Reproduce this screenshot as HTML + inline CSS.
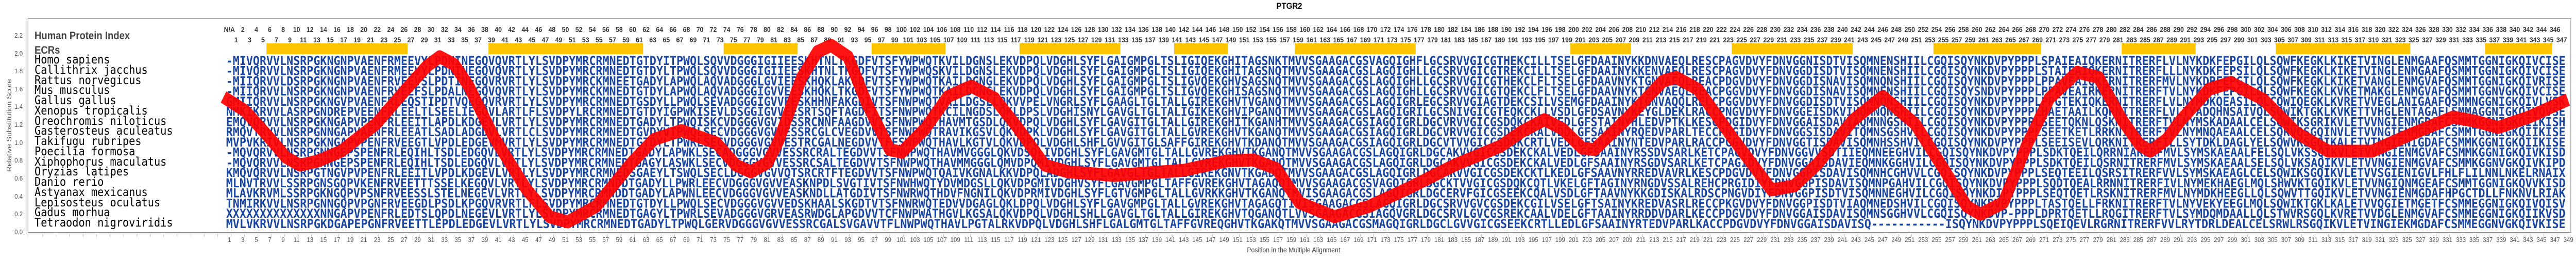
<!DOCTYPE html>
<html><head><meta charset="utf-8"><style>
html,body{margin:0;padding:0;overflow:hidden;height:500px;background:#fff}
#wrap{display:block;width:100vw;height:500px}
.pg{width:5671px;height:500px;position:relative;background:#fff;font-family:"Liberation Sans",sans-serif;overflow:hidden}
.ab{position:absolute}
.row{position:absolute;white-space:nowrap;font-size:0;overflow:hidden;height:16px}
.row i{display:inline-block;font-style:normal;text-align:center;width:29.6px}
.top i{font-size:14px;font-weight:bold;color:#333;line-height:16px}
.bot i{font-size:13px;color:#555;line-height:16px}
.sp{position:absolute;left:76px;top:107px;font-family:"DejaVu Sans Mono",monospace;font-size:23px;line-height:19.75px;color:#000;white-space:pre}
.yl{position:absolute;left:20px;width:30px;text-align:right;font-size:13px;color:#555;line-height:14px}
</style></head><body>
<svg id="wrap" viewBox="0 0 5671 500" preserveAspectRatio="none" xmlns="http://www.w3.org/2000/svg">
<foreignObject x="0" y="0" width="5671" height="500">
<div xmlns="http://www.w3.org/1999/xhtml" class="pg">
<div class="ab" style="left:61px;top:35px;width:5597px;height:414px;border:1px solid #888"></div>
<div class="ab" style="left:57px;top:35px;width:1px;height:418px;background:#999"></div>
<div class="ab" style="left:61px;top:453px;width:5598px;height:1px;background:#aaa"></div>
<div class="ab" style="left:61px;top:454px;width:5598px;height:5px;background:repeating-linear-gradient(90deg,transparent 0,transparent 28.6px,#bbb 28.6px,#bbb 29.6px);background-position:4px 0"></div>

<div class="ab" style="left:2810px;top:2px;font-weight:bold;font-size:17px">PTGR2</div>
<div class="ab" style="left:2745px;top:476px;font-size:14px;color:#444;white-space:nowrap">Position in the Multiple Alignment</div>
<div class="ab" style="left:12px;top:338px;width:190px;text-align:center;transform-origin:0 0;transform:rotate(-90deg);font-size:15px;color:#555;white-space:nowrap;line-height:17px">Relative Substitution Score</div>

<div class="yl" style="top:443px">0.0</div><div class="yl" style="top:408px">0.2</div><div class="yl" style="top:374px">0.4</div><div class="yl" style="top:339px">0.6</div><div class="yl" style="top:304px">0.8</div><div class="yl" style="top:270px">1.0</div><div class="yl" style="top:235px">1.2</div><div class="yl" style="top:200px">1.4</div><div class="yl" style="top:166px">1.6</div><div class="yl" style="top:131px">1.8</div><div class="yl" style="top:97px">2.0</div><div class="yl" style="top:62px">2.2</div>

<div class="ab" style="left:76px;top:58px;font-weight:bold;font-size:21px;color:#444;white-space:nowrap">Human Protein Index</div>
<div class="ab" style="left:76px;top:86px;font-weight:bold;font-size:21px;color:#444">ECRs</div>

<div class="row top" style="left:490.2px;top:49px;width:5160px"><i>N/A</i><i>2</i><i>4</i><i>6</i><i>8</i><i>10</i><i>12</i><i>14</i><i>16</i><i>18</i><i>20</i><i>22</i><i>24</i><i>26</i><i>28</i><i>30</i><i>32</i><i>34</i><i>36</i><i>38</i><i>40</i><i>42</i><i>44</i><i>46</i><i>48</i><i>50</i><i>52</i><i>54</i><i>56</i><i>58</i><i>60</i><i>62</i><i>64</i><i>66</i><i>68</i><i>70</i><i>72</i><i>74</i><i>76</i><i>78</i><i>80</i><i>82</i><i>84</i><i>86</i><i>88</i><i>90</i><i>92</i><i>94</i><i>96</i><i>98</i><i>100</i><i>102</i><i>104</i><i>106</i><i>108</i><i>110</i><i>112</i><i>114</i><i>116</i><i>118</i><i>120</i><i>122</i><i>124</i><i>126</i><i>128</i><i>130</i><i>132</i><i>134</i><i>136</i><i>138</i><i>140</i><i>142</i><i>144</i><i>146</i><i>148</i><i>150</i><i>152</i><i>154</i><i>156</i><i>158</i><i>160</i><i>162</i><i>164</i><i>166</i><i>168</i><i>170</i><i>172</i><i>174</i><i>176</i><i>178</i><i>180</i><i>182</i><i>184</i><i>186</i><i>188</i><i>190</i><i>192</i><i>194</i><i>196</i><i>198</i><i>200</i><i>202</i><i>204</i><i>206</i><i>208</i><i>210</i><i>212</i><i>214</i><i>216</i><i>218</i><i>220</i><i>222</i><i>224</i><i>226</i><i>228</i><i>230</i><i>232</i><i>234</i><i>236</i><i>238</i><i>240</i><i>242</i><i>244</i><i>246</i><i>248</i><i>250</i><i>252</i><i>254</i><i>256</i><i>258</i><i>260</i><i>262</i><i>264</i><i>266</i><i>268</i><i>270</i><i>272</i><i>274</i><i>276</i><i>278</i><i>280</i><i>282</i><i>284</i><i>286</i><i>288</i><i>290</i><i>292</i><i>294</i><i>296</i><i>298</i><i>300</i><i>302</i><i>304</i><i>306</i><i>308</i><i>310</i><i>312</i><i>314</i><i>316</i><i>318</i><i>320</i><i>322</i><i>324</i><i>326</i><i>328</i><i>330</i><i>332</i><i>334</i><i>336</i><i>338</i><i>340</i><i>342</i><i>344</i><i>346</i></div>
<div class="row top" style="left:505px;top:69px;width:5160px"><i>1</i><i>3</i><i>5</i><i>7</i><i>9</i><i>11</i><i>13</i><i>15</i><i>17</i><i>19</i><i>21</i><i>23</i><i>25</i><i>27</i><i>29</i><i>31</i><i>33</i><i>35</i><i>37</i><i>39</i><i>41</i><i>43</i><i>45</i><i>47</i><i>49</i><i>51</i><i>53</i><i>55</i><i>57</i><i>59</i><i>61</i><i>63</i><i>65</i><i>67</i><i>69</i><i>71</i><i>73</i><i>75</i><i>77</i><i>79</i><i>81</i><i>83</i><i>85</i><i>87</i><i>89</i><i>91</i><i>93</i><i>95</i><i>97</i><i>99</i><i>101</i><i>103</i><i>105</i><i>107</i><i>109</i><i>111</i><i>113</i><i>115</i><i>117</i><i>119</i><i>121</i><i>123</i><i>125</i><i>127</i><i>129</i><i>131</i><i>133</i><i>135</i><i>137</i><i>139</i><i>141</i><i>143</i><i>145</i><i>147</i><i>149</i><i>151</i><i>153</i><i>155</i><i>157</i><i>159</i><i>161</i><i>163</i><i>165</i><i>167</i><i>169</i><i>171</i><i>173</i><i>175</i><i>177</i><i>179</i><i>181</i><i>183</i><i>185</i><i>187</i><i>189</i><i>191</i><i>193</i><i>195</i><i>197</i><i>199</i><i>201</i><i>203</i><i>205</i><i>207</i><i>209</i><i>211</i><i>213</i><i>215</i><i>217</i><i>219</i><i>221</i><i>223</i><i>225</i><i>227</i><i>229</i><i>231</i><i>233</i><i>235</i><i>237</i><i>239</i><i>241</i><i>243</i><i>245</i><i>247</i><i>249</i><i>251</i><i>253</i><i>255</i><i>257</i><i>259</i><i>261</i><i>263</i><i>265</i><i>267</i><i>269</i><i>271</i><i>273</i><i>275</i><i>277</i><i>279</i><i>281</i><i>283</i><i>285</i><i>287</i><i>289</i><i>291</i><i>293</i><i>295</i><i>297</i><i>299</i><i>301</i><i>303</i><i>305</i><i>307</i><i>309</i><i>311</i><i>313</i><i>315</i><i>317</i><i>319</i><i>321</i><i>323</i><i>325</i><i>327</i><i>329</i><i>331</i><i>333</i><i>335</i><i>337</i><i>339</i><i>341</i><i>343</i><i>345</i><i>347</i></div>
<div class="row bot" style="left:490.2px;top:457px;width:5180px"><i>1</i><i>3</i><i>5</i><i>7</i><i>9</i><i>11</i><i>13</i><i>15</i><i>17</i><i>19</i><i>21</i><i>23</i><i>25</i><i>27</i><i>29</i><i>31</i><i>33</i><i>35</i><i>37</i><i>39</i><i>41</i><i>43</i><i>45</i><i>47</i><i>49</i><i>51</i><i>53</i><i>55</i><i>57</i><i>59</i><i>61</i><i>63</i><i>65</i><i>67</i><i>69</i><i>71</i><i>73</i><i>75</i><i>77</i><i>79</i><i>81</i><i>83</i><i>85</i><i>87</i><i>89</i><i>91</i><i>93</i><i>95</i><i>97</i><i>99</i><i>101</i><i>103</i><i>105</i><i>107</i><i>109</i><i>111</i><i>113</i><i>115</i><i>117</i><i>119</i><i>121</i><i>123</i><i>125</i><i>127</i><i>129</i><i>131</i><i>133</i><i>135</i><i>137</i><i>139</i><i>141</i><i>143</i><i>145</i><i>147</i><i>149</i><i>151</i><i>153</i><i>155</i><i>157</i><i>159</i><i>161</i><i>163</i><i>165</i><i>167</i><i>169</i><i>171</i><i>173</i><i>175</i><i>177</i><i>179</i><i>181</i><i>183</i><i>185</i><i>187</i><i>189</i><i>191</i><i>193</i><i>195</i><i>197</i><i>199</i><i>201</i><i>203</i><i>205</i><i>207</i><i>209</i><i>211</i><i>213</i><i>215</i><i>217</i><i>219</i><i>221</i><i>223</i><i>225</i><i>227</i><i>229</i><i>231</i><i>233</i><i>235</i><i>237</i><i>239</i><i>241</i><i>243</i><i>245</i><i>247</i><i>249</i><i>251</i><i>253</i><i>255</i><i>257</i><i>259</i><i>261</i><i>263</i><i>265</i><i>267</i><i>269</i><i>271</i><i>273</i><i>275</i><i>277</i><i>279</i><i>281</i><i>283</i><i>285</i><i>287</i><i>289</i><i>291</i><i>293</i><i>295</i><i>297</i><i>299</i><i>301</i><i>303</i><i>305</i><i>307</i><i>309</i><i>311</i><i>313</i><i>315</i><i>317</i><i>319</i><i>321</i><i>323</i><i>325</i><i>327</i><i>329</i><i>331</i><i>333</i><i>335</i><i>337</i><i>339</i><i>341</i><i>343</i><i>345</i><i>347</i><i>349</i></div>

<div class="sp">Homo sapiens
Callithrix jacchus
Rattus norvegicus
Mus musculus
Gallus gallus
Xenopus tropicalis
Oreochromis niloticus
Gasterosteus aculeatus
Takifugu rubripes
Poecilia formosa
Xiphophorus maculatus
Oryzias latipes
Danio rerio
Astyanax mexicanus
Lepisosteus oculatus
Gadus morhua
Tetraodon nigroviridis</div>
</div>
</foreignObject>
<g fill="#ffc600">
<rect x="586.6" y="84" width="310.8" height="21"/>
<rect x="1075.4" y="84" width="340.4" height="21"/>
<rect x="1593.2" y="84" width="162.8" height="21"/>
<rect x="1918.8" y="84" width="162.8" height="21"/>
<rect x="2244.4" y="84" width="222" height="21"/>
<rect x="2584.8" y="84" width="118.4" height="21"/>
<rect x="2850.2" y="84" width="266.4" height="21"/>
<rect x="3457.2" y="84" width="133.2" height="21"/>
<rect x="3812.4" y="84" width="266.4" height="21"/>
<rect x="4256.4" y="84" width="236.8" height="21"/>
<rect x="4670.8" y="84" width="162.8" height="21"/>
<rect x="5010.2" y="84" width="296" height="21"/>
<rect x="5470.8" y="84" width="148" height="21"/>
</g>
<g font-family="DejaVu Sans Mono, Liberation Mono, monospace" font-weight="bold" font-size="24" fill="#1a46a0">
<text x="497.6" y="126" textLength="5150.4" lengthAdjust="spacingAndGlyphs">-MIVQRVVLNSRPGKNGNPVAENFRMEEVYLPDNINEGQVQVRTLYLSVDPYMRCRMNEDTGTDYITPWQLSQVVDGGGIGIIEESKHTNLTKGDFVTSFYWPWQTKVILDGNSLEKVDPQLVDGHLSYFLGAIGMPGLTSLIGIQEKGHITAGSNKTMVVSGAAGACGSVAGQIGHFLGCSRVVGICGTHEKCILLTSELGFDAAINYKKDNVAEQLRESCPAGVDVYFDNVGGNISDTVISQMNENSHIILCGQISQYNKDVPYPPPLSPAIEAIQKERNITRERFLVLNYKDKFEPGILQLSQWFKEGKLKIKETVINGLENMGAAFQSMMTGGNIGKQIVCISE</text>
<text x="497.6" y="145.75" textLength="5150.4" lengthAdjust="spacingAndGlyphs">-MIVQRVVLNSRPGKNGNPVAENFRMEEVYLPDNINEGQVQVRTLYLSVDPYMRCRMNEDTGTDYLTPWQLSQVVDGGGIGIIEESKHTNLTKGDFVTSFYWPWQSKVILDGNSLEKVDPQLVDGHLSYFLGAIGMPGLTSLIGIQEKGHITAGSNQTMVVSGAAGACGSLAGQIGHLLGCSRVVGICGTREKCILLTSELGFDAAINYKKENVAEQLRESCPAGVDVYFDNVGGDISDTVISQMNENSHIILCGQISQYNKDVPYPPPLSTAIEAIQKERNITRERFLLLNYKDKFEPSILQLSQWFKEGKLKIKETVINGLENMGAAFQSMMTGGNIGKQIVCISE</text>
<text x="497.6" y="165.5" textLength="5150.4" lengthAdjust="spacingAndGlyphs">-MIIQRVVLDSRPGKNGNPVAENFRVEEVSLPDTINEGQVRVRTLYLSVDPYMRCKMNEETGADYLAPWQLAQVADGGGLGVIEESKHQKLAKGDFVTSFYWPWQTKAILDGNGLEKVDPQLVDGHLSYFLGAIGMPGLTSLIGVQEKGHVSAGSNQTMVVSGAAGACGSLAGQIGHLLGCSRVVGICGTHEKCLFLTSELGFDAAVNYKTGNVAEQLREACPDGVDVYFDNVGGDISNAVISQMNQNSHIILCGQISQYNKDVPYPPPLPPAVEAIQKERNITRERFMVLNYKDRFEPGILQLSQWFKEGKLKIKETVANGLENMGVAFQSMMTGGNIGKQIVRISE</text>
<text x="497.6" y="185.25" textLength="5150.4" lengthAdjust="spacingAndGlyphs">-MIIQRVVLNSRPGKNGNPVAENFRVEEFSLPDALNEGQVQVRTLYLSVDPYMRCKMNEDTGTDYLAPWQLAQVADGGGIGVVEESKHQKLTKGDFVTSFYWPWQTKAILDGNGLEKVDPQLVDGHLSYFLGAIGMPGLTSLIGVQEKGHISAGSNQTMVVSGAAGACGSLAGQIGHLLGCSRVVGICGTQEKCLFLTSELGFDAAVNYKTGNVAEQLREACPGGVDVYFDNVGGDISNAVISQMNENSHIILCGQISQYSNDVPYPPPLPPAVEAIRKERNITRERFTVLNYKDKFEPGILQLSQWFKEGKLKVKETMAKGLENMGVAFQSMMTGGNVGKQIVCISE</text>
<text x="497.6" y="205" textLength="5150.4" lengthAdjust="spacingAndGlyphs">GMIIQRVVLNSRPGKNGVPVAENFRLEQSTIPDTVQEGQVRVRTLYLSVDPYMRCRMNEDTGSDYLLPWQLSEVADGGGIGVVEESKHHNFAKGDIVTSFNWPWQTVAILDGSLLQKVVPELVNGRLSYFLGAAGLTGLTALLGIREKGHVTVGANQTMVVSGAAGACGSLAGQIGRLEGCSRVVGIAGTDEKCSILVSEMGFDAAINYKTGNVAQQLRELCPGGVDVYFDNVGGDISDTVISQMNQNSHIILCGQISQYNKDVPYPPPLPPGTEKIQKERNITRERFLVLNYMDKQEASILQLCQWIQEGKLKVRETVVEGLANIGAAFQSMMNGGNIGKQIVLVSK</text>
<text x="497.6" y="224.75" textLength="5150.4" lengthAdjust="spacingAndGlyphs">NMKIKRVVLASRPGNDREPVEENFRLEELTLSEELIEGQVLARTLFLSVDPYLRCRMNEDTGTDYIGPWKISEVLDSGGIGVVEESRTSQFTAGDFITSFNWPWQTKCILNGDSLQKLDPSLVDGHISNYLGAVGLTGLTALIGIKEKGHVIPGANQTMVVSGAAGACGSLAGQIGRILGCSNIVGICGTEQKCKLLVSDLGFDSAVNYKEYGLDEKLRACCPNGVDVYFDNVGGEISDKVIHQMNQNSHIILCGQISQYNKDVPYPPPLHAETAAILKQRNITRERFLVLTYADQHNSAIVQLSQWIKTGKLKVKETTVHGLENTAGAFLSMMAGGNIGKQIVQVSE</text>
<text x="497.6" y="244.5" textLength="5150.4" lengthAdjust="spacingAndGlyphs">EMQVQRVVLNSRPGKNGAPVPENFRLEEITLAPDLKDGEVLVRTLYLSVDPYMRCRMNEDTGADYLTPWQISKCVDGGGVGVIDSSRCNNFAAGDVVISFNWPWQTHAVMTGSDLQKVDPQLVDGHLSYFLGAVGITGLTALLGIREKGHITKGANHTMVVSGAAGACGSIAGQIGRLDGCVRVVGICGSDQKCKAIVEDLGFSTAINYHLEDVPTKLKESCPDGIDVYFDNVGGAISDAVIAQMNNGSHIILCGQISQYNKDVPYPPPLSEETQKNLQSKNITRERFTVLNYMSKADAALCELSQWIKSGRIKVLETVVNGIENMGDAFCSMMKGGNIGKQIIKISH</text>
<text x="497.6" y="264.25" textLength="5150.4" lengthAdjust="spacingAndGlyphs">RMQVTRVVLNSRPGNNGAPVAENFRLEEATLSADLADGDVLVRTLCLSVDPYMRCRMNEDTGVDYVTPWQLSECVDGGGVGVVESSRCGLCVEGDVVTSFNWPWQTRAVIKGSVLQKVDPKLVDGHLSYFLGAVGITGLTALLGVREKGHVTKGANQTMVVSGAAGACGSIAGQIGRLDGCVRVVGICGSDEKCRALVDDLGFSAAINYRQEDVPARLTECCPNGIDVYFDNVGGSISDAVITQMNSGSHVILCGQISQYNKDVPYPPPLSEETKETLRRKNITRERFTVLNYMNQAEAALCELSQRVQSGQINVLETVVNGIENMGDAFCSMMTGGNIGKQIIKISE</text>
<text x="497.6" y="284" textLength="5150.4" lengthAdjust="spacingAndGlyphs">MVPVKRIVLNSRPGKNGAPVPENFRVEEGTLVPDLEDGEVMVRTLYLSVDPYMRCRMNEDTGTDYLTPWRLSECVDGGGVGVVESTRCGALNEGDVVTFFSWPWQTHAVLKGTVLQKVDPQLVDGHLSHFLGVVGITGLSAFFGIREKGHVTKDANQTMVVSGAAGACGSIAGQIGRLDGCVTVVGICGSDQKCRTLVEDLGFSAAINYNTEDVPARLRACCPGGVDVYFDNVGGTISDAVISQMNHSSHVILCGQISQYNKDVPYPPPLSEEISEVLQRKNITRERFILLSYTDKLDAGLYELSQWVKSGQIKALETVTNGIENIGDAFCSMMKGGNIGKQIIKISE</text>
<text x="497.6" y="303.75" textLength="5150.4" lengthAdjust="spacingAndGlyphs">-MQVQRVVLNSRPGNNGEPSPENFRLEQIHLTSDLEDGQVLVRTLYLSVDPYMRCRMNEDTGADYLAPWKLSECADGGGVGVVESSRCRALTEGDVVTSFNWPWQTHAVMVGGGLQKVDSQLIVDGHLSYFLGAVGMTGLTALLGVREKGHVTKGANQTMVVSGAAGACGSLAGQIGRLDGCAKVVGICGSDEKCKALVEDLGFSAAINYRSSDVSARLKETCPAGVDVYFDNVGGVVSDTIIEQMNEEGHVILCGQISQYNKDVPYPPPLSDKTQEILQRRNIARERFMVLSYMSKAEAALFELSQLVKSSQIKVLETVVNGIENMGVAFCSMMKGGNIGKQIVKISD</text>
<text x="497.6" y="323.5" textLength="5150.4" lengthAdjust="spacingAndGlyphs">-MQVQRVVLNSRPGNNGEPSPENFRLEQIHLTSDLEDGQVLVRTLYLSVDPYMRCRMNEDTGAGYLASWKLSECVDGGGVGVVESSRCSALTEGDVVTSFNWPWQTHAVMMGGGLQMVDPQMIVDGHLSYFLGAVGMTGLTALLGVREKGHVTKGANQTMVVSGAAGACGSLAGQIGRLDGCAKVVGICGSDEKCKALVEDLGFSAAINYRSGDVSARLKETCPAGIDVYFDNVGGAISDAVIEQMNKGGHVILCGQISQYNKDVPYPPPLSDKTQEILQSRNITRERFMVLSYMSKAEAALSELSQLVKSAQIKVLETVVNGIENMGVAFCSMMKGGNVGKQIVKIPD</text>
<text x="497.6" y="343.25" textLength="5150.4" lengthAdjust="spacingAndGlyphs">KMQVQRVVLNSRPGTNGVPVPENFRLEEITLVPDLKDGEVLVRTLYLSVDPYMRCRMNEDSGAEYLTSWQLSECLDGGGVGVVQTSRCRTFTEGDVVTSFNWPWQTQAIVKGNALKKVDPQLADGHLSYFLGAVGLTGLTALLGIREKGNVTKGADQTMVVSGAAGACGSLAGQIGRLDGCARVVGICGSDEKCKTLKEDLGFSAAVNYRREDVAVRLKESCPDGVDVYFDNVGGPISDAVISQMNHCGHVVLCGQISQYNKDVPYPPPLSEQTEEILQSRSITRERFVVLSYMSKAEAGLCELSQWIKSGQIKVLETVVSGIENIGVLFHLFLILNNLNKELRNAIX</text>
<text x="497.6" y="363" textLength="5150.4" lengthAdjust="spacingAndGlyphs">MLNVTRVVLSSRPGNSGQPVKENFRVEETTTSSELKEGQVLVRTLYLSVDPYMRCRMNDDTGADYLLPWRLEECVDGGGVGVVEASKNPDLSVGTIVTSFNWHWQTYDVMDGSLLQKVDPGMIVDGHVSYFLGAVGMPGLTAFFGVREKGHVTAGAQQTMVVSGAAGACGSVAGQIGRLDGCKTVVGICGSDQKCQTLVKELGFTAGINYRNGDVSSALREHCPRGIDIYFDNVGGPISDAVISQMNPGAHVILCGQISQYNKDVPYPPPLSQDTQEALRRNNITRERFIVLNYMEKHAEGLMQLSHWVKTGQIKVLETVVNGIQNMGEAFCSMMTGGNIGKQVVKISD</text>
<text x="497.6" y="382.75" textLength="5150.4" lengthAdjust="spacingAndGlyphs">MLAVKRVMLSSRPGKNGQPVPSNFRVEESSLSTELNEGEVLVRTLYLSVDPYMRCRMNDDTGADYLAPWNLEECVDGGGVGVVEASKNDLLATGDIVTSFNWRWQTHDVFNGNILQKVDPRMIVDGHLSYFLGTVGMPGLTALLGVRKKGHVTKGANQTMVISGAAGACGSLAGQIGRLDGCERVFGICGSEEKCQALVSDLGFTAAVNYKKGDISKALRDSCPNGVDIYFDNVGGPISDTVISQMNNEGHVILCGQISQYNKDIPYPPPLSEQTQETLRSKNITRERFMVLNYMDKHEEGLLQLSQWVTTGQIKVLETVVNGIENMGDAFHPGCTDLLFNKNVLRIAK</text>
<text x="497.6" y="402.5" textLength="5150.4" lengthAdjust="spacingAndGlyphs">TNMIRKVVLNSRPGNNGQPVPGNFRVEEGDLPSDLKPGQVRVRTLFLSVDPYMRCRMNEDTGTDYLLPWQLSECVDGGGVGVVEDSKHAALSKGDTVTSFNWRWQTEDVVDGAGLQKLDPQLVDGHLSYFLGAVGMPGLTALLGVREKGHVTAGAGQTIVISGAAGACGSLAGQIGRLDGCSRVVGVCGSDEKCGILVSELGFTSAINYKREDVASRLRECCPKGVDVYFDNVGGPISDTVIAQMNEDSHVILCGQISQYNKDVPYPPPLTASTQELLFRKNITRERFTVLNYVEKYEEGLMQLSQWIKTGKLKALETVVQGIETMGETFCSMMEGGNIGKQIVQISV</text>
<text x="497.6" y="422.25" textLength="5150.4" lengthAdjust="spacingAndGlyphs">XXXXXXXXXXXXXXNNGAPVPENFRLEDTSLQPDLNEGEVLVRTLYLSVDPYMRCRMNEDTGAGYLTPWRLSEVADGGGVGRVEASRWDGLAPGDVVTCFNWPWATHGVLKGSALQKVDPQLVDGHLSHLLGAVGLTGLTALLGIREKGHVTQGANQTLVVSGAAGACGSIAGQVGRLDGCSRVLGVCGSREKCAALVDELGFTAAINYRRDDVDARLKECCPDGVDVYFDNVGGAISDAVISQMNSGGHVVLCGQISQYNKDVP-PPPLDPRTQETLLRQGITRERFTVLSYMDQMDAALLQLSTWVRSGQLKVRETVVDGLENMGVAFCSMMEGGNIGKQIIKVSD</text>
<text x="497.6" y="442" textLength="5150.4" lengthAdjust="spacingAndGlyphs">MVLVKRVVLNSRPGKDGAPEPGNFRVEETTLEPDLEDGEVLVRTLYLSVDPYMRCRMNEDTGADYLTPWQLGERVDGGGVGVVESSRCGALSVGAVVTFLNWPWQTHAVLPGTALRKVDPQLVDGHLSHFLGALGMTGLTAFFGVREQGHVTKGAKQTMVVSGAAGACGSMAGQIGRLDGCLGVVGICGSEEKCRTLLEDLGFSAAINYRTEDVPARLKACCPDGVDVYFDNVGGAISDAVISQ-----------ISQYNKDVPYPPPLSQEIQEVLRGRNITRERFVVLRYTDRLDEALCELSRWLRSGQIKVLETVINGIEKMGDAFCSMMEGGNVGKQIVKISE</text>
</g>
<polyline fill="none" stroke="#ff0000" stroke-opacity="0.92" stroke-width="25" stroke-linejoin="round" points="492,188 540,215 593,267 630,305 660,320 700,312 751,293 828,240 894,173 940,128 968,110 1000,125 1032,167 1088,267 1159,367 1210,420 1250,430 1312,400 1389,317 1440,270 1500,253 1577,277 1620,320 1653,333 1690,315 1714,273 1765,150 1800,100 1830,88 1867,110 1908,200 1959,290 1985,295 2036,250 2087,187 2138,167 2189,190 2240,247 2300,320 2351,333 2453,340 2606,330 2700,312 2760,310 2810,327 2861,393 2938,420 3014,400 3100,365 3202,320 3304,283 3350,255 3400,232 3440,250 3483,287 3510,290 3585,227 3661,157 3690,150 3738,173 3814,267 3900,368 3950,360 4002,317 4079,233 4145,187 4216,240 4283,333 4330,400 4360,415 4410,393 4461,283 4512,190 4573,140 4620,150 4672,233 4710,280 4734,293 4770,270 4801,233 4863,173 4911,160 4983,193 5055,257 5126,293 5222,293 5300,263 5350,245 5400,227 5450,235 5500,247 5567,227 5653,193"/>
</svg>
</body></html>
